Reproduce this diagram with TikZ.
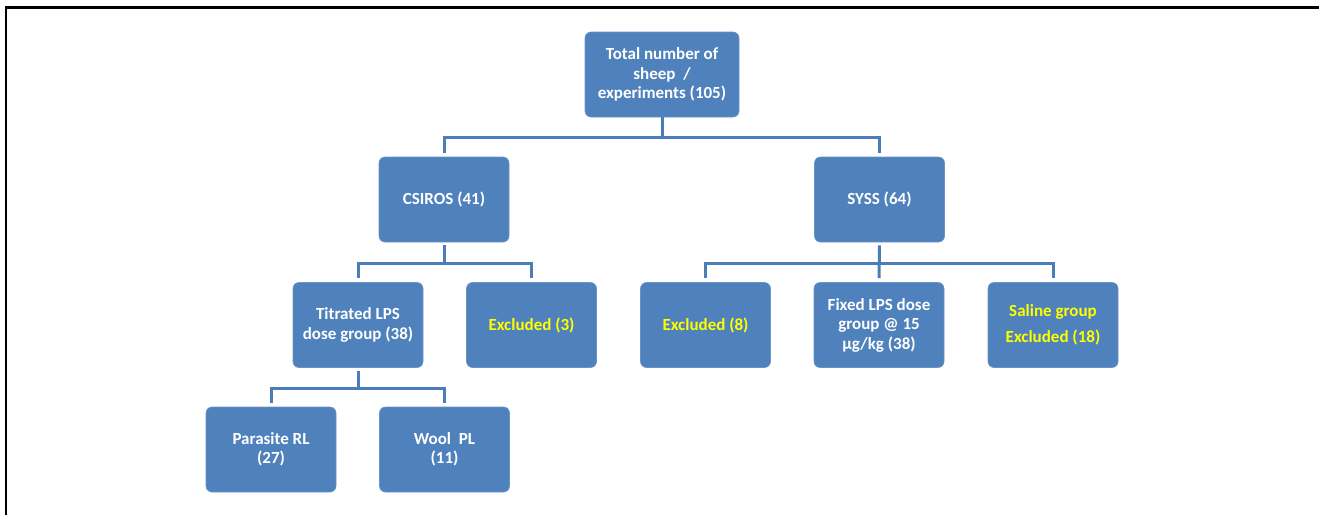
\documentclass[tikz,border=0pt]{standalone}
\usepackage{fontspec}
\setmainfont{Carlito}
\definecolor{boxblue}{HTML}{4F81BD}
\definecolor{lineblue}{HTML}{4A7EBB}
\definecolor{hiyellow}{HTML}{FFFF00}
\begin{document}
\begin{tikzpicture}[x=1pt,y=-1pt,
  box/.style={rectangle, rounded corners=6pt, fill=boxblue, draw=boxblue!85!white, line width=0.6pt,
    minimum width=130pt, minimum height=85pt, inner sep=2pt, align=center, text=white,
    font=\fontsize{17}{19.5}\selectfont\bfseries},
  excl/.style={text=hiyellow},
  conn/.style={draw=lineblue, line width=3pt}]
  % page area and frame
  \useasboundingbox (0,0) rectangle (1319,515);
  \draw[black, line width=2.5pt] (6,515) -- (6,7.5) -- (1319,7.5);

  % bar levels
  \coordinate (b1) at (0,137);
  \coordinate (b2) at (0,263);
  \coordinate (b3) at (0,388);

  % nodes
  \node[box, minimum width=154pt] (top) at (662,74.5) {Total number of\\sheep\ \ /\\experiments (105)};
  \node[box] (csiros) at (444,199.5) {CSIROS (41)};
  \node[box] (syss) at (879.5,199.5) {SYSS (64)};
  \node[box] (titr) at (358,325) {Titrated LPS\\dose group (38)};
  \node[box, excl] (ex3) at (531.5,325) {Excluded (3)};
  \node[box, excl] (ex8) at (705.5,325) {Excluded (8)};
  \node[box] (fixed) at (879,325) {Fixed LPS dose\\group @ 15\\µg/kg (38)};
  \node[box, excl] (saline) at (1053,325) {Saline group\\[6pt]Excluded (18)};
  \node[box] (para) at (271,449.5) {Parasite RL\\(27)};
  \node[box] (wool) at (444.5,449.5) {Wool\ \ PL\\(11)};

  % connectors
  \draw[conn] (top.south) -- (top.south |- b1);
  \draw[conn] ([yshift=4pt]csiros.north) |- (top.south |- b1) -| ([yshift=4pt]syss.north);

  \draw[conn] ([yshift=-3pt]csiros.south) -- (csiros.south |- b2);
  \draw[conn] ([yshift=4pt]titr.north) |- (csiros.south |- b2) -| ([yshift=4pt]ex3.north);

  \draw[conn] ([yshift=-3pt]syss.south) -- ([yshift=4pt]fixed.north);
  \draw[conn] ([yshift=4pt]ex8.north) |- (syss.south |- b2) -| ([yshift=4pt]saline.north);

  \draw[conn] ([yshift=-3pt]titr.south) -- (titr.south |- b3);
  \draw[conn] ([yshift=4pt]para.north) |- (titr.south |- b3) -| ([yshift=4pt]wool.north);
\end{tikzpicture}
\end{document}
